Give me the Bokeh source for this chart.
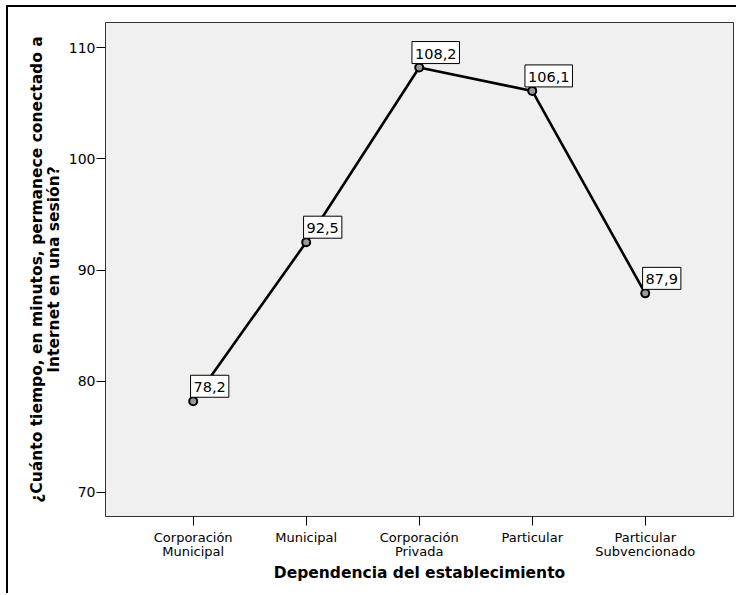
from bokeh.plotting import figure
from bokeh.models import ColumnDataSource, Label, Range1d, FixedTicker
from bokeh.embed import file_html
from bokeh.resources import INLINE

categories = ["Corporación\nMunicipal", "Municipal", "Corporación\nPrivada",
              "Particular", "Particular\nSubvencionado"]
values = [78.2, 92.5, 108.2, 106.1, 87.9]
y_ticks = [70, 80, 90, 100, 110]

xs = list(range(len(categories)))
labels = [f"{v:.1f}".replace(".", ",") for v in values]
src = ColumnDataSource(dict(x=xs, y=values, lab=labels))

p = figure(width=730, height=588, output_backend="svg", toolbar_location=None,
           x_range=Range1d(-0.776, 4.781), y_range=Range1d(67.84, 112.25),
           min_border_left=97, min_border_right=5, min_border_top=15, min_border_bottom=79)
p.styles = {"margin-left": "6px", "margin-top": "5px",
            "border-left": "2px solid black", "border-top": "2px solid black"}

p.background_fill_color = "#F0F0F0"
p.border_fill_color = "white"
p.outline_line_color = "#333333"
p.outline_line_width = 1
p.xgrid.visible = False
p.ygrid.visible = False

FONT = "DejaVu Sans"
p.xaxis.ticker = FixedTicker(ticks=xs)
p.xaxis.major_label_overrides = {i: c for i, c in zip(xs, categories)}
p.yaxis.ticker = FixedTicker(ticks=y_ticks)
for ax in (p.xaxis[0], p.yaxis[0]):
    ax.axis_line_color = None
    ax.major_tick_line_color = "black"
    ax.major_tick_line_width = 1
    ax.major_tick_out = 9
    ax.major_tick_in = 0
    ax.minor_tick_line_color = None
    ax.major_label_text_font = FONT
    ax.major_label_text_color = "black"
    ax.axis_label_text_font = FONT
    ax.axis_label_text_font_style = "bold"
    ax.axis_label_text_color = "black"

p.xaxis.major_label_text_font_size = "13px"
p.xaxis.major_label_text_line_height = 0.95
p.xaxis.major_label_standoff = 4
p.xaxis.axis_label = "Dependencia del establecimiento"
p.xaxis.axis_label_text_font_size = "15.5px"
p.xaxis.axis_label_standoff = 2

p.yaxis.major_label_text_font_size = "14px"
p.yaxis.major_label_standoff = 1
p.yaxis.axis_label = "¿Cuánto tiempo, en minutos, permanece conectado a\nInternet en una sesión?"
p.yaxis.axis_label_text_font_size = "15.5px"
p.yaxis.axis_label_text_line_height = 0.95
p.yaxis.axis_label_standoff = 3

p.line("x", "y", source=src, line_color="black", line_width=2.6)
p.scatter("x", "y", source=src, marker="circle", size=8, line_color="black",
          line_width=2, fill_color="#9a9a9a")

for xv, yv, t in zip(xs, values, labels):
    p.add_layout(Label(x=xv, y=yv, text=t, text_font_size="14.5px",
                       text_font=FONT, text_color="black", text_align="center",
                       text_baseline="bottom", x_offset=16.5, y_offset=4,
                       background_fill_color="white", border_line_color="black",
                       border_line_width=1,
                       padding=dict(left=3, right=3, top=7, bottom=5)))

open("out.html", "w").write(file_html(p, INLINE))
